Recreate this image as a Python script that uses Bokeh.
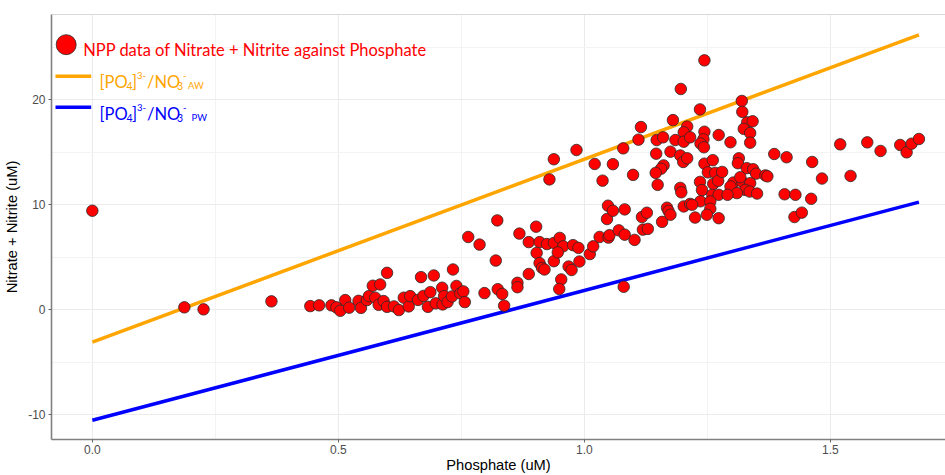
from bokeh.plotting import figure
from bokeh.models import FixedTicker, Label, Span, Range1d
from bokeh.embed import file_html
from bokeh.resources import INLINE

# ---------------- data ----------------
phosphate = [
    0.000, 0.187, 0.226, 0.364, 0.443, 0.461, 0.486, 0.496, 0.504, 0.514,
    0.522, 0.541, 0.546, 0.558, 0.562, 0.570, 0.585, 0.599, 0.575, 0.582,
    0.592, 0.599, 0.613, 0.623, 0.633, 0.643, 0.646, 0.662, 0.668, 0.673,
    0.682, 0.687, 0.694, 0.698, 0.711, 0.712, 0.715, 0.722, 0.733, 0.731,
    0.740, 0.748, 0.754, 0.757, 0.797, 0.824, 0.833, 0.837, 0.764, 0.787,
    0.820, 0.823, 0.868, 0.864, 0.864, 0.887, 0.902, 0.887, 0.909, 0.903,
    0.909, 0.914, 0.919, 0.924, 0.938, 0.938, 0.950, 0.957, 0.946, 0.953,
    0.949, 0.968, 0.974, 0.977, 0.988, 0.990, 1.011, 1.018, 0.929, 0.938,
    0.984, 1.021, 1.031, 1.049, 1.051, 1.070, 1.082, 1.102, 1.046, 1.048,
    1.058, 1.082, 1.080, 1.037, 1.058, 1.079, 1.099, 1.110, 1.115, 1.117,
    1.127, 1.119, 1.129, 1.149, 1.158, 1.168, 1.171, 1.175, 1.195, 1.197,
    1.202, 1.215, 1.225, 1.235, 1.236, 1.244, 1.196, 1.235, 1.180, 1.209,
    1.202, 1.244, 1.273, 1.147, 1.160, 1.185, 1.202, 1.215, 1.242, 1.236,
    1.243, 1.146, 1.175, 1.195, 1.201, 1.209, 1.244, 1.261, 1.251, 1.266,
    1.161, 1.156, 1.145, 1.262, 1.272, 1.239, 1.260, 1.273, 1.256, 1.219,
    1.256, 1.249, 1.273, 1.320, 1.321, 1.331, 1.342, 1.324, 1.337, 1.337,
    1.297, 1.386, 1.411, 1.314, 1.312, 1.330, 1.343, 1.349, 1.368, 1.372,
    1.280, 1.303, 1.321, 1.337, 1.297, 1.327, 1.336, 1.351, 1.310, 1.291,
    1.317, 1.407, 1.429, 1.427, 1.442, 1.463, 1.483, 1.541, 1.520, 1.575,
    1.602, 1.642, 1.655, 1.665, 1.680, 1.461,
]
nitrate_nitrite = [
    9.43, 0.22, 0.03, 0.79, 0.34, 0.41, 0.41, 0.22, -0.11, 0.91,
    0.19, 0.84, 0.17, 0.91, 1.29, 2.28, 2.40, 3.51, 1.14, 0.46,
    0.82, 0.27, 0.31, -0.04, 1.14, 0.31, 1.29, 0.93, 3.10, 1.31,
    0.27, 1.67, 3.26, 0.60, 2.09, 0.50, 1.29, 0.72, 3.83, 1.26,
    2.26, 1.55, 1.74, 0.72, 1.58, 1.95, 1.50, 0.38, 6.93, 6.20,
    4.68, 8.51, 7.25, 2.56, 2.14, 3.40, 7.91, 6.44, 6.44, 5.41,
    4.44, 3.99, 3.83, 6.25, 6.36, 4.62, 6.84, 6.04, 5.46, 2.88,
    1.97, 4.11, 3.78, 6.15, 5.89, 4.59, 5.30, 6.04, 12.42, 14.34,
    15.22, 13.89, 6.93, 6.87, 7.10, 7.56, 7.15, 6.65, 8.64, 9.91,
    9.43, 9.56, 2.18, 12.30, 13.87, 15.38, 12.85, 16.21, 17.41, 8.83,
    9.24, 7.63, 7.70, 11.90, 8.37, 9.72, 9.41, 9.05, 11.61, 11.19,
    9.84, 10.08, 8.78, 12.18, 10.33, 23.77, 21.04, 19.09, 18.07, 17.46,
    16.91, 16.96, 16.65, 16.17, 16.43, 16.17, 16.01, 16.43, 16.24, 15.84,
    15.48, 14.87, 15.06, 14.70, 14.08, 14.43, 13.92, 14.25, 13.09, 13.04,
    13.75, 13.44, 13.04, 11.99, 12.28, 11.40, 10.95, 10.95, 10.31, 10.00,
    9.62, 9.05, 8.72, 19.90, 18.86, 17.86, 17.96, 17.24, 16.84, 15.92,
    15.96, 14.84, 14.53, 14.43, 13.96, 13.49, 13.39, 12.97, 12.80, 12.71,
    13.13, 12.12, 12.18, 12.06, 11.74, 11.42, 11.26, 11.07, 11.11, 10.95,
    12.63, 11.00, 10.95, 8.83, 9.25, 14.08, 12.50, 12.75, 15.76, 15.95,
    15.13, 15.70, 15.00, 15.82, 16.27, 10.57,
]

# reference ratio lines (endpoints)
ratio_x = [0.0, 1.68]
aw_ratio = [-3.1, 26.2]
pw_ratio = [-10.55, 10.25]

x_ticks = [0.0, 0.5, 1.0, 1.5]
x_tick_labels = ["0.0", "0.5", "1.0", "1.5"]
x_minor = [0.25, 0.75, 1.25, 1.75]
y_ticks = [-10, 0, 10, 20]
y_tick_labels = ["-10", "0", "10", "20"]
y_minor = [-5, 5, 15, 25]

series_label = "NPP data of Nitrate + Nitrite against Phosphate"

# ---------------- figure ----------------
X0, X1 = -0.083, 1.734
Y0, Y1 = -12.38, 28.14
W, H = 945, 475
FL, FR, FT, FB = 51, 945, 14, 441

p = figure(width=W, height=H, x_range=Range1d(X0, X1), y_range=Range1d(Y0, Y1),
           output_backend="svg", toolbar_location=None,
           min_border_left=FL, min_border_right=W - FR,
           min_border_top=FT, min_border_bottom=H - FB)
p.background_fill_color = "white"
p.border_fill_color = "white"
p.outline_line_color = None

xt = FixedTicker(ticks=x_ticks, minor_ticks=x_minor)
yt = FixedTicker(ticks=y_ticks, minor_ticks=y_minor)
p.xaxis.ticker = xt
p.yaxis.ticker = yt
p.xgrid.ticker = xt
p.ygrid.ticker = yt
p.xaxis.major_label_overrides = dict(zip(x_ticks, x_tick_labels))
p.yaxis.major_label_overrides = dict(zip(y_ticks, y_tick_labels))

for g in (p.xgrid[0], p.ygrid[0]):
    g.grid_line_color = "#EBEBEB"
    g.grid_line_width = 1.1
    g.minor_grid_line_color = "#F3F3F3"
    g.minor_grid_line_width = 1

for ax in (p.xaxis[0], p.yaxis[0]):
    ax.axis_line_color = "#808080"
    ax.axis_line_width = 1.6
    ax.major_tick_line_color = "#666666"
    ax.major_tick_in = 0
    ax.major_tick_out = 3
    ax.minor_tick_line_color = None
    ax.major_label_text_font = "Liberation Sans"
    ax.major_label_text_font_size = "12px"
    ax.major_label_text_color = "#4D4D4D"
    ax.axis_label_text_font = "Liberation Sans"
    ax.axis_label_text_font_size = "14.7px"
    ax.axis_label_text_font_style = "normal"
    ax.axis_label_text_color = "black"

p.xaxis.axis_label = "Phosphate (uM)"
p.yaxis.axis_label = "Nitrate + Nitrite (uM)"
p.xaxis.major_label_standoff = 1
p.xaxis.axis_label_standoff = 0
p.yaxis.major_label_standoff = 2
p.yaxis.axis_label_standoff = 5

p.add_layout(Span(location=Y1, dimension="width", line_color="#B3B3B3", line_width=1))

ORANGE = "#FFA500"
BLUE = "#0000FF"
RED = "#FF0000"

p.line(ratio_x, aw_ratio, line_color=ORANGE, line_width=3.5)
p.line(ratio_x, pw_ratio, line_color=BLUE, line_width=3.5)
p.scatter(phosphate, nitrate_nitrite, size=11.5, fill_color=RED,
          line_color="#2a2a2a", line_width=0.8)

# ---------------- hand-made legend ----------------
def dx(px):
    return X0 + (px - FL) / (FR - FL) * (X1 - X0)

def dy(py):
    return Y1 - (py - FT) / (FB - FT) * (Y1 - Y0)

LF = "Lato"
p.scatter([dx(65.7)], [dy(44.3)], size=20, fill_color=RED,
          line_color="#2a2a2a", line_width=0.8)
p.add_layout(Label(x=dx(82.7), y=dy(50), text=series_label, text_font=LF,
                   text_font_size="16.5px", text_color=RED,
                   text_baseline="alphabetic"))

def ratio_row(color, base, key_y, suffix, suffix_x):
    p.line([dx(55), dx(90.7)], [dy(key_y), dy(key_y)], line_color=color, line_width=3.5)
    pieces = [("[PO", 99, 0, "16.5px"), ("4", 126, 3.4, "10.5px"),
              ("]", 131.5, 0, "16.5px"), ("3-", 136.5, -7.3, "9.5px"),
              ("/NO", 146.5, 0, "16.5px"), ("3", 176.5, 3.4, "10.5px"),
              ("-", 182.5, -7.3, "9.5px"), (suffix, suffix_x, 3.4, "9.5px")]
    for txt, px, off, fs in pieces:
        p.add_layout(Label(x=dx(px), y=dy(base + off), text=txt, text_font=LF,
                           text_font_size=fs, text_color=color,
                           text_baseline="alphabetic"))

ratio_row(ORANGE, 82.3, 76, "AW", 187.5)
ratio_row(BLUE, 114.3, 107.3, "PW", 191)

open("out.html", "w").write(file_html(p, INLINE))
